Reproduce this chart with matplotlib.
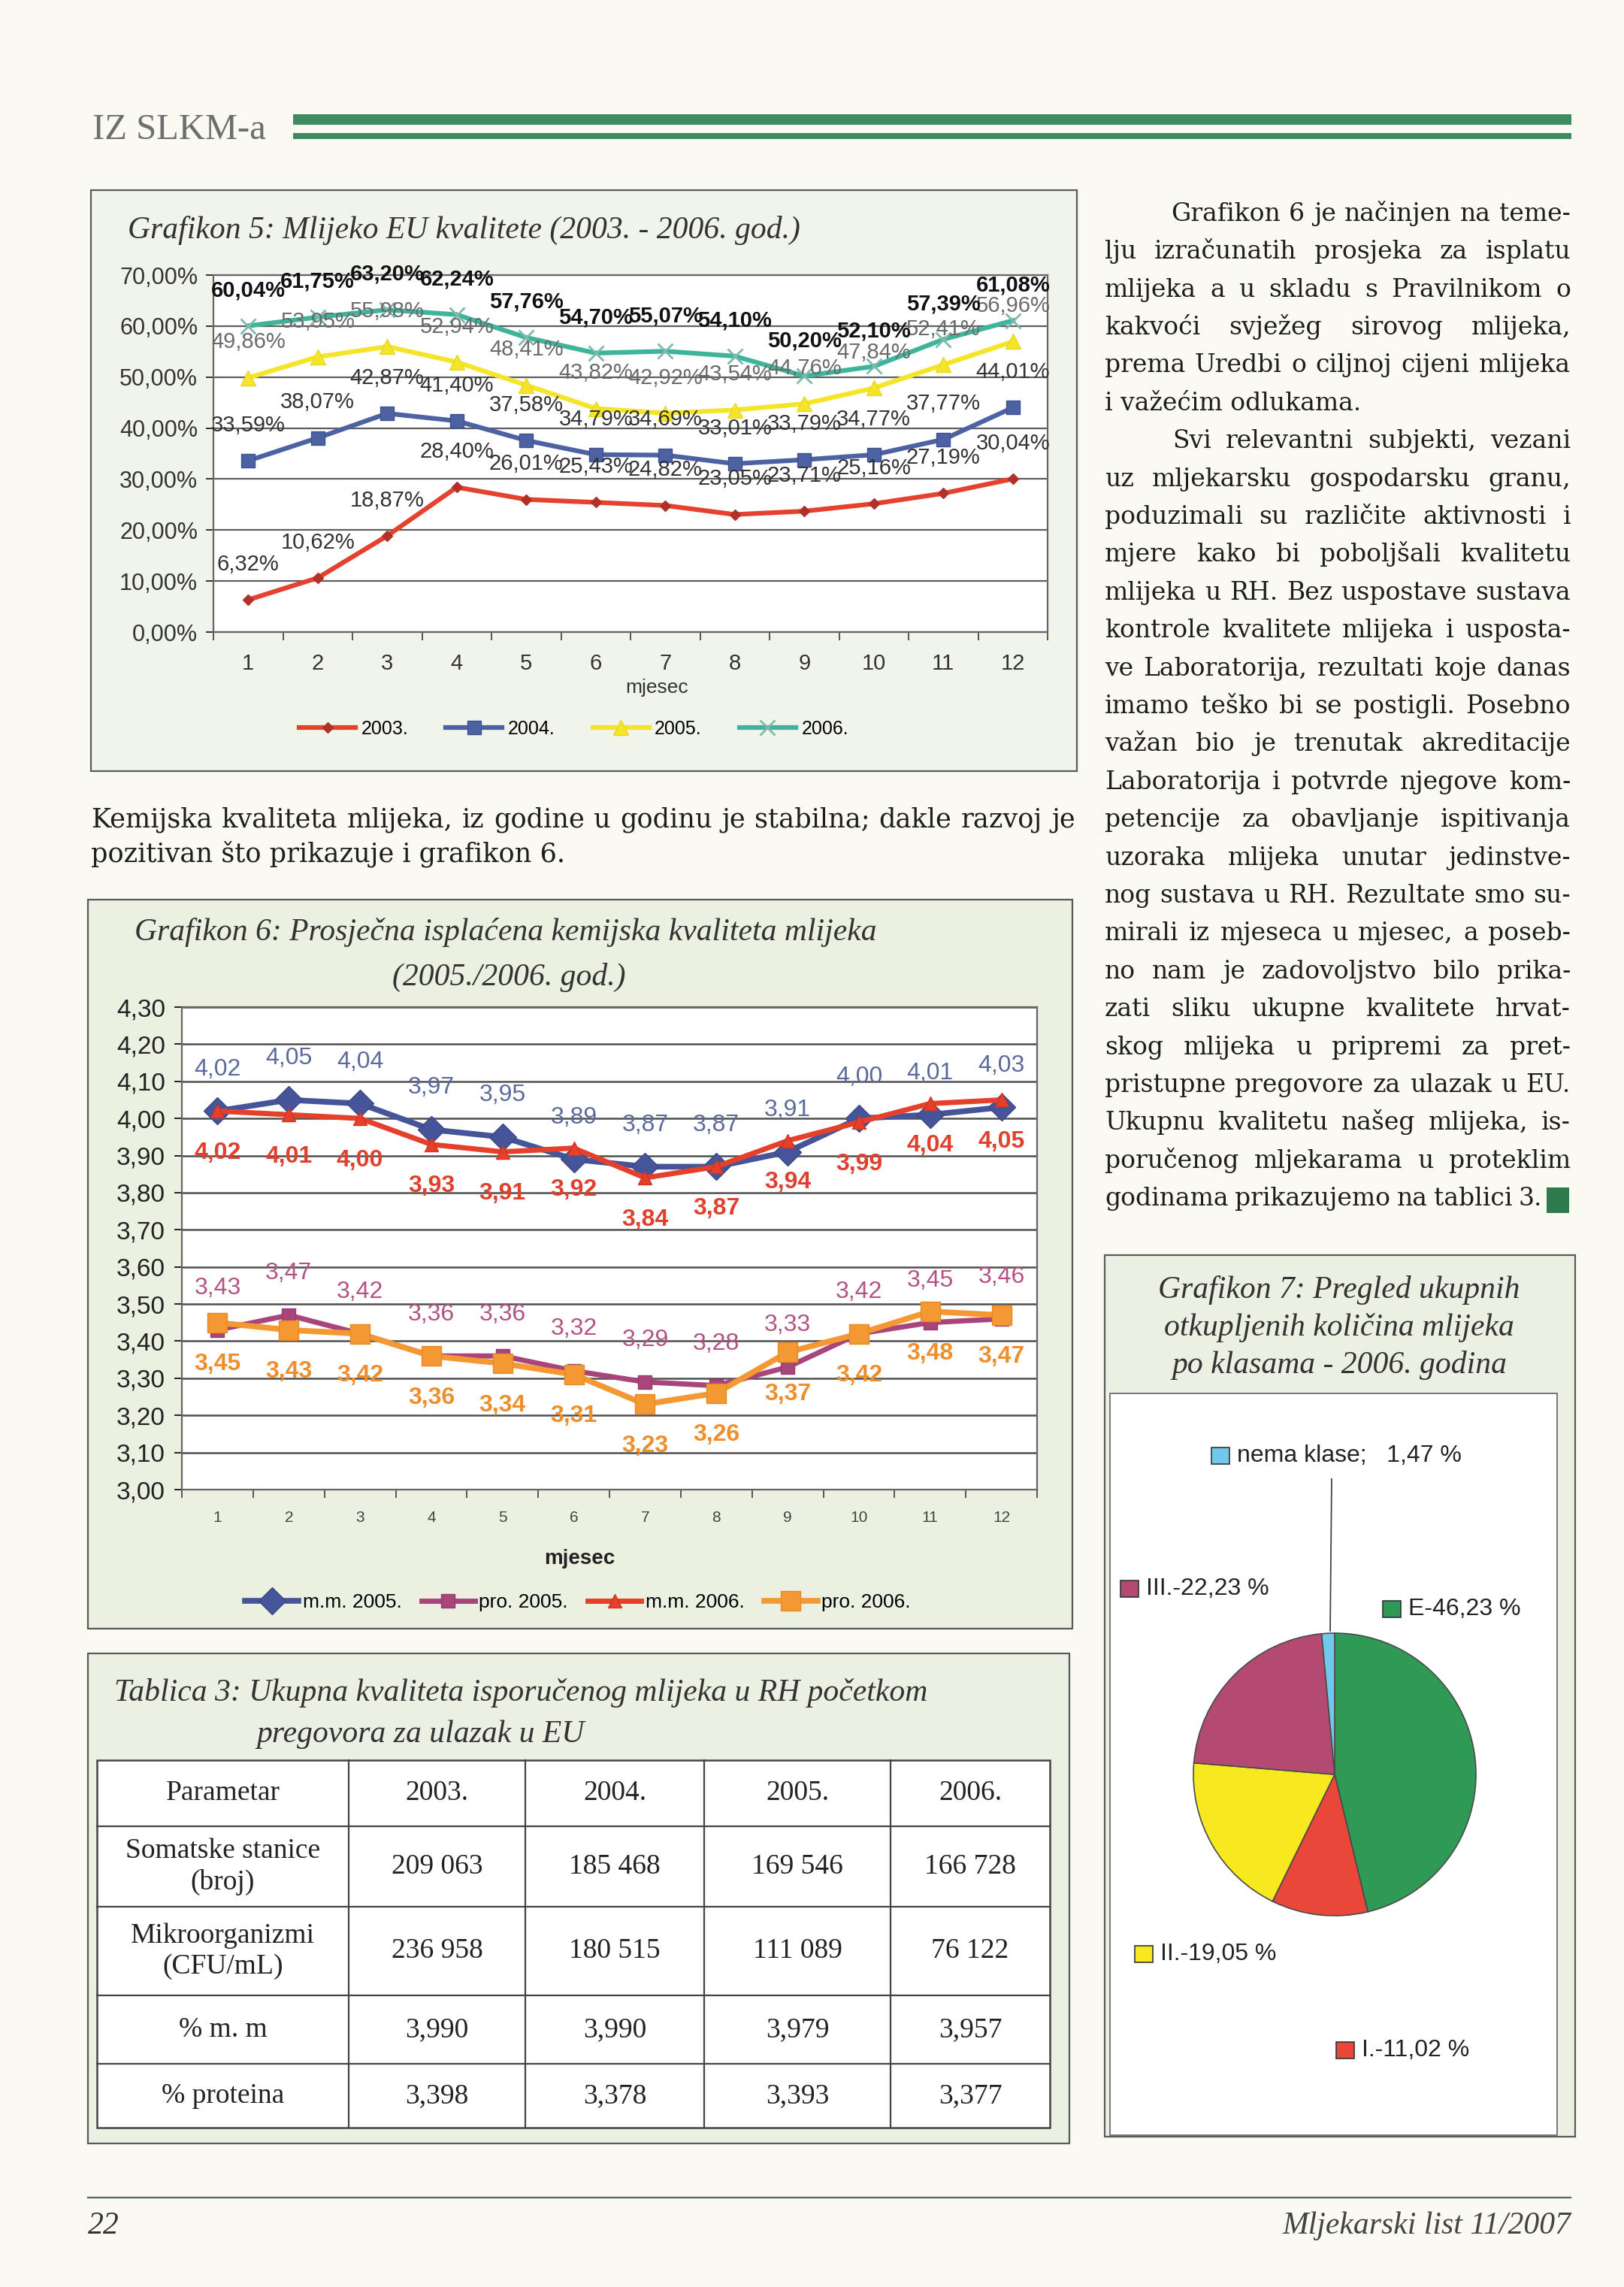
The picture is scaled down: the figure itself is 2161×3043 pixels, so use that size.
import numpy as np
import matplotlib
matplotlib.use("Agg")
import matplotlib.pyplot as plt
from matplotlib.patches import Rectangle
from matplotlib.lines import Line2D
from matplotlib.font_manager import FontProperties

plt.rcParams['font.family'] = ['Liberation Sans', 'DejaVu Sans']

# ---------------- data ----------------
months = list(range(1, 13))

# Grafikon 5 (% mlijeka EU kvalitete)
eu_2003 = [6.32, 10.62, 18.87, 28.40, 26.01, 25.43, 24.82, 23.05, 23.71, 25.16, 27.19, 30.04]
eu_2004 = [33.59, 38.07, 42.87, 41.40, 37.58, 34.79, 34.69, 33.01, 33.79, 34.77, 37.77, 44.01]
eu_2005 = [49.86, 53.95, 55.98, 52.94, 48.41, 43.82, 42.92, 43.54, 44.76, 47.84, 52.41, 56.96]
eu_2006 = [60.04, 61.75, 63.20, 62.24, 57.76, 54.70, 55.07, 54.10, 50.20, 52.10, 57.39, 61.08]

# Grafikon 6 (mliječna mast / proteini)
mm_2005 = [4.02, 4.05, 4.04, 3.97, 3.95, 3.89, 3.87, 3.87, 3.91, 4.00, 4.01, 4.03]
pro_2005 = [3.43, 3.47, 3.42, 3.36, 3.36, 3.32, 3.29, 3.28, 3.33, 3.42, 3.45, 3.46]
mm_2006 = [4.02, 4.01, 4.00, 3.93, 3.91, 3.92, 3.84, 3.87, 3.94, 3.99, 4.04, 4.05]
pro_2006 = [3.45, 3.43, 3.42, 3.36, 3.34, 3.31, 3.23, 3.26, 3.37, 3.42, 3.48, 3.47]

# Grafikon 7 (klase 2006.)
pie_names = ["E-46,23 %", "I.-11,02 %", "II.-19,05 %", "III.-22,23 %", "nema klase;   1,47 %"]
pie_values = [46.23, 11.02, 19.05, 22.23, 1.47]

# Tablica 3
table_head = ["Parametar", "2003.", "2004.", "2005.", "2006."]
table_rows = [
    ["Somatske stanice\n(broj)", "209 063", "185 468", "169 546", "166 728"],
    ["Mikroorganizmi\n(CFU/mL)", "236 958", "180 515", "111 089", "76 122"],
    ["% m. m", "3,990", "3,990", "3,979", "3,957"],
    ["% proteina", "3,398", "3,378", "3,393", "3,377"],
]

col_text = [
    "Grafikon 6 je načinjen na teme-",
    "lju izračunatih prosjeka za isplatu",
    "mlijeka a u skladu s Pravilnikom o",
    "kakvoći svježeg sirovog mlijeka,",
    "prema Uredbi o ciljnoj cijeni mlijeka",
    "i važećim odlukama.",
    "Svi relevantni subjekti, vezani",
    "uz mljekarsku gospodarsku granu,",
    "poduzimali su različite aktivnosti i",
    "mjere kako bi poboljšali kvalitetu",
    "mlijeka u RH. Bez uspostave sustava",
    "kontrole kvalitete mlijeka i usposta-",
    "ve Laboratorija, rezultati koje danas",
    "imamo teško bi se postigli. Posebno",
    "važan bio je trenutak akreditacije",
    "Laboratorija i potvrde njegove kom-",
    "petencije za obavljanje ispitivanja",
    "uzoraka mlijeka unutar jedinstve-",
    "nog sustava u RH. Rezultate smo su-",
    "mirali iz mjeseca u mjesec, a poseb-",
    "no nam je zadovoljstvo bilo prika-",
    "zati sliku ukupne kvalitete hrvat-",
    "skog mlijeka u pripremi za pret-",
    "pristupne pregovore za ulazak u EU.",
    "Ukupnu kvalitetu našeg mlijeka, is-",
    "poručenog mljekarama u proteklim",
    "godinama prikazujemo na tablici 3.",
]
mid_text = [
    "Kemijska kvaliteta mlijeka, iz godine u godinu je stabilna; dakle razvoj je",
    "pozitivan što prikazuje i grafikon 6.",
]

# ---------------- page ----------------
W, H = 2161, 3043
fig = plt.figure(figsize=(W / 100, H / 100), dpi=100)
fig.patch.set_facecolor('#fbfaf2')


def X(x):
    return x / W


def Y(y):
    return 1 - y / H


def box(x0, y0, x1, y1, fc, ec='#5a5a5a', lw=1.6, z=-5):
    fig.patches.append(Rectangle((X(x0), Y(y1)), (x1 - x0) / W, (y1 - y0) / H,
                                 transform=fig.transFigure, fc=fc, ec=ec, lw=lw, zorder=z))


def axes_px(x0, y0, x1, y1):
    return fig.add_axes([X(x0), Y(y1), (x1 - x0) / W, (y1 - y0) / H])


def comma(v, nd=2):
    return f"{v:.{nd}f}".replace('.', ',')


green = '#3f8a63'
ink = '#1e1e1e'

# header
fig.text(X(123), Y(185), "IZ SLKM-a", family='Liberation Serif', fontsize=35,
         color='#6e6e6e', ha='left', va='baseline')
box(390, 152, 2091, 166, green, ec='none', z=1)
box(390, 177, 2091, 185, green, ec='none', z=1)

# ---------------- Grafikon 5 ----------------
box(121, 253, 1433, 1026, '#f1f4ea')
fig.text(X(170), Y(306), "Grafikon 5: Mlijeko EU kvalitete (2003. - 2006. god.)",
         family='Liberation Serif', style='italic', fontsize=30, color='#333333',
         ha='left', va='center')

ax5 = axes_px(284, 366, 1394, 841)
ax5.set_facecolor('white')
ax5.set_xlim(0.5, 12.5)
ax5.set_ylim(0, 70)
yt = np.arange(0, 71, 10)
ax5.set_yticks(yt)
ax5.set_yticklabels([comma(v) + '%' for v in yt])
ax5.yaxis.grid(True, color='#5e5e5e', lw=1.6)
ax5.set_axisbelow(True)
ax5.set_xticks(months)
ax5.set_xticks(np.arange(0.5, 13, 1), minor=True)
ax5.tick_params(axis='x', which='major', length=0, pad=20, labelsize=21, colors='#333333')
ax5.tick_params(axis='x', which='minor', length=8, width=1.4, color='#555555')
ax5.tick_params(axis='y', length=7, width=1.4, pad=8, labelsize=22, colors='#333333')
for s in ax5.spines.values():
    s.set_color('#666666')
    s.set_linewidth(1.6)

series5 = [
    (eu_2003, "2003.", dict(color='#e4412f', lw=4.5, marker='D', ms=7, mfc='#b0302a', mec='#b0302a'),
     dict(color='#333333')),
    (eu_2004, "2004.", dict(color='#4d62a3', lw=4.5, marker='s', ms=13, mfc='#4d62a3', mec='#3f5290'),
     dict(color='#333333')),
    (eu_2005, "2005.", dict(color='#f4e52a', lw=4.5, marker='^', ms=14, mfc='#f4e52a', mec='#e8d820'),
     dict(color='#6a6a6a')),
    (eu_2006, "2006.", dict(color='#3fb49c', lw=4.5, marker='x', ms=15, mew=2, mec='#7fb8ac'),
     dict(color='#111111', fontweight='bold')),
]
for vals, name, st, lab in series5:
    ax5.plot(months, vals, label=name, **st)
for vals, name, st, lab in series5:
    for m, v in zip(months, vals):
        ax5.annotate(comma(v) + '%', (m, v), xytext=(0, 34), textcoords='offset points',
                     ha='center', va='center', fontsize=21, annotation_clip=False, **lab)

ax5.legend(loc='center', bbox_to_anchor=(0.432, -0.272), ncol=4, frameon=False,
           fontsize=18, handlelength=3.0, handletextpad=0.3, columnspacing=2.0)
fig.text(X(874), Y(915), "mjesec", fontsize=19, color='#333333', ha='center', va='center')

# text between charts and right column
renderer = fig.canvas.get_renderer()


def text_w(s, fp):
    return renderer.get_text_width_height_descent(s, fp, ismath=False)[0]


def fit_size(lines, avail, size):
    fp = FontProperties(family='DejaVu Serif', size=size)
    ratio = min(1.0, min(avail * 0.99 / text_w(ln, fp) for ln in lines))
    return FontProperties(family='DejaVu Serif', size=size * ratio)


def justify(lines, x0, x1, ys, fp, flags, indents):
    em = fp.get_size_in_points() * 100 / 72
    for line, y, fl, ind in zip(lines, ys, flags, indents):
        yb = y + 0.3 * em
        xs = x0 + ind
        words = line.split(' ')
        if not fl or len(words) == 1:
            fig.text(X(xs), Y(yb), line, fontproperties=fp, color=ink, ha='left', va='baseline')
            continue
        widths = [text_w(w, fp) for w in words]
        gap = (x1 - xs - sum(widths)) / (len(words) - 1)
        x = xs
        for w, wd in zip(words, widths):
            fig.text(X(x), Y(yb), w, fontproperties=fp, color=ink, ha='left', va='baseline')
            x += wd + gap


mid_fp = fit_size(mid_text, 1431 - 121, 26)
justify(mid_text, 121, 1431, [1090, 1136], mid_fp, [True, False], [0, 0])

col_lines = [ln for i, ln in enumerate(col_text) if i not in (0, 6)]
col_fp = fit_size(col_lines, 2090 - 1470, 26)
ys = [284 + i * 50.4 for i in range(len(col_text))]
flags = [True] * len(col_text)
flags[5] = False
indents = [0] * len(col_text)
indents[0] = 88
indents[6] = 90
justify(col_text[:-1], 1470, 2090, ys[:-1], col_fp, flags[:-1], indents[:-1])
justify(col_text[-1:], 1470, 2052, ys[-1:], col_fp, [True], [0])
box(2058, ys[-1] - 14, 2088, ys[-1] + 20, '#2f7a4c', ec='none', z=1)

# ---------------- Grafikon 6 ----------------
box(117, 1197, 1427, 2167, '#ebf0e1')
fig.text(X(179), Y(1240), "Grafikon 6: Prosječna isplaćena kemijska kvaliteta mlijeka",
         family='Liberation Serif', style='italic', fontsize=30, color='#333333',
         ha='left', va='center')
fig.text(X(522), Y(1300), "(2005./2006. god.)",
         family='Liberation Serif', style='italic', fontsize=30, color='#333333',
         ha='left', va='center')

ax6 = axes_px(242, 1340, 1380, 1982)
ax6.set_facecolor('white')
ax6.set_xlim(0.5, 12.5)
ax6.set_ylim(3.0, 4.3)
yt6 = np.round(np.arange(3.0, 4.301, 0.1), 2)
ax6.set_yticks(yt6)
ax6.set_yticklabels([comma(v) for v in yt6])
ax6.yaxis.grid(True, color='#4e4e4e', lw=1.8)
ax6.set_axisbelow(True)
ax6.set_xticks(months)
ax6.set_xticks(np.arange(0.5, 13, 1), minor=True)
ax6.tick_params(axis='x', which='major', length=0, pad=20, labelsize=15, colors='#444444')
ax6.tick_params(axis='x', which='minor', length=8, width=1.4, color='#555555')
ax6.tick_params(axis='y', length=7, width=1.4, pad=9, labelsize=24, colors='#222222')
for s in ax6.spines.values():
    s.set_color('#666666')
    s.set_linewidth(1.6)

series6 = [
    (mm_2005, "m.m. 2005.", dict(color='#46559a', lw=5.5, marker='D', ms=18, mfc='#46559a', mec='#3a4888'),
     dict(color='#5b6a9c'), 40),
    (pro_2005, "pro. 2005.", dict(color='#a8467c', lw=5, marker='s', ms=13, mfc='#a8467c', mec='#983a6e'),
     dict(color='#b45383'), 40),
    (mm_2006, "m.m. 2006.", dict(color='#e4402c', lw=5, marker='^', ms=13, mfc='#e4402c', mec='#d03422'),
     dict(color='#e0402e', fontweight='bold'), -40),
    (pro_2006, "pro. 2006.", dict(color='#f39833', lw=5.5, marker='s', ms=19, mfc='#f39833', mec='#e88a24'),
     dict(color='#f08e2c', fontweight='bold'), -40),
]
for vals, name, st, lab, off in series6:
    ax6.plot(months, vals, label=name, **st)
for vals, name, st, lab, off in series6:
    for m, v in zip(months, vals):
        ax6.annotate(comma(v), (m, v), xytext=(0, off), textcoords='offset points',
                     ha='center', va='center', fontsize=23, annotation_clip=False, **lab)

ax6.legend(loc='center', bbox_to_anchor=(0.463, -0.234), ncol=4, frameon=False,
           fontsize=19, handlelength=2.7, handletextpad=0.2, columnspacing=1.0)
fig.text(X(771), Y(2074), "mjesec", fontsize=20, fontweight='bold', color='#222222',
         ha='center', va='center')

# ---------------- Tablica 3 ----------------
box(117, 2200, 1423, 2852, '#ecf0e2')
fig.text(X(152), Y(2253), "Tablica 3: Ukupna kvaliteta isporučenog mlijeka u RH početkom",
         family='Liberation Serif', style='italic', fontsize=30, color='#333333',
         ha='left', va='center')
fig.text(X(341), Y(2308), "pregovora za ulazak u EU",
         family='Liberation Serif', style='italic', fontsize=30, color='#333333',
         ha='left', va='center')

col_x = [129, 464, 699, 937, 1185, 1397]
row_y = [2342, 2430, 2537, 2655, 2746, 2831]
box(col_x[0], row_y[0], col_x[-1], row_y[-1], 'white', ec='#444444', lw=1.8, z=-4)
for x in col_x[1:-1]:
    fig.add_artist(Line2D([X(x), X(x)], [Y(row_y[0]), Y(row_y[-1])], color='#444444', lw=1.6))
for y in row_y[1:-1]:
    fig.add_artist(Line2D([X(col_x[0]), X(col_x[-1])], [Y(y), Y(y)], color='#444444', lw=1.6))
all_rows = [table_head] + table_rows
for r, row in enumerate(all_rows):
    yc = (row_y[r] + row_y[r + 1]) / 2
    for c, cell in enumerate(row):
        xc = (col_x[c] + col_x[c + 1]) / 2
        fig.text(X(xc), Y(yc), cell, family='Liberation Serif', fontsize=27, color='#222222',
                 ha='center', va='center', linespacing=1.25, multialignment='center')

# ---------------- Grafikon 7 ----------------
box(1470, 1670, 2096, 2843, '#ecf0e2')
box(1477, 1854, 2072, 2841, 'white', ec='#777777', lw=1.4, z=-4)
for i, t in enumerate(["Grafikon 7: Pregled ukupnih", "otkupljenih količina mlijeka",
                       "po klasama - 2006. godina"]):
    fig.text(X(1782), Y(1717 + i * 50), t, family='Liberation Serif', style='italic',
             fontsize=30, color='#333333', ha='center', va='center')

pie_colors = ['#2f9a56', '#e8473a', '#f8e81e', '#b44a72', '#72c8e8']
cx, cy, r = 1776, 2361, 188
ax7 = axes_px(cx - r, cy - r, cx + r, cy + r)
ax7.pie(pie_values, colors=pie_colors, startangle=90, counterclock=False,
        wedgeprops=dict(edgecolor='#4a4a4a', linewidth=1.2))
ax7.set_xlim(-1, 1)
ax7.set_ylim(-1, 1)

fig.add_artist(Line2D([X(1772), X(1770)], [Y(1968), Y(2170)], color='#444444', lw=1.3))
leg7 = [  # (square x, center y) for E, I, II, III, nema klase
    (1840, 2141), (1778, 2728), (1510, 2600), (1491, 2114), (1612, 1937)]
for (sx, sy), name, col in zip(leg7, pie_names, pie_colors):
    box(sx, sy - 11, sx + 24, sy + 11, col, ec='#333333', lw=1.2, z=2)
    fig.text(X(sx + 34), Y(sy), name, fontsize=23, color='#222222', ha='left', va='center')

# ---------------- footer ----------------
fig.add_artist(Line2D([X(117), X(2090)], [Y(2924), Y(2924)], color='#4b6b58', lw=1.6))
fig.text(X(117), Y(2962), "22", family='Liberation Serif', style='italic', fontsize=30,
         color='#333333', ha='left', va='center')
fig.text(X(2090), Y(2962), "Mljekarski list 11/2007", family='Liberation Serif', style='italic',
         fontsize=30, color='#444444', ha='right', va='center')

fig.savefig('out.png', dpi=100, facecolor=fig.get_facecolor())
